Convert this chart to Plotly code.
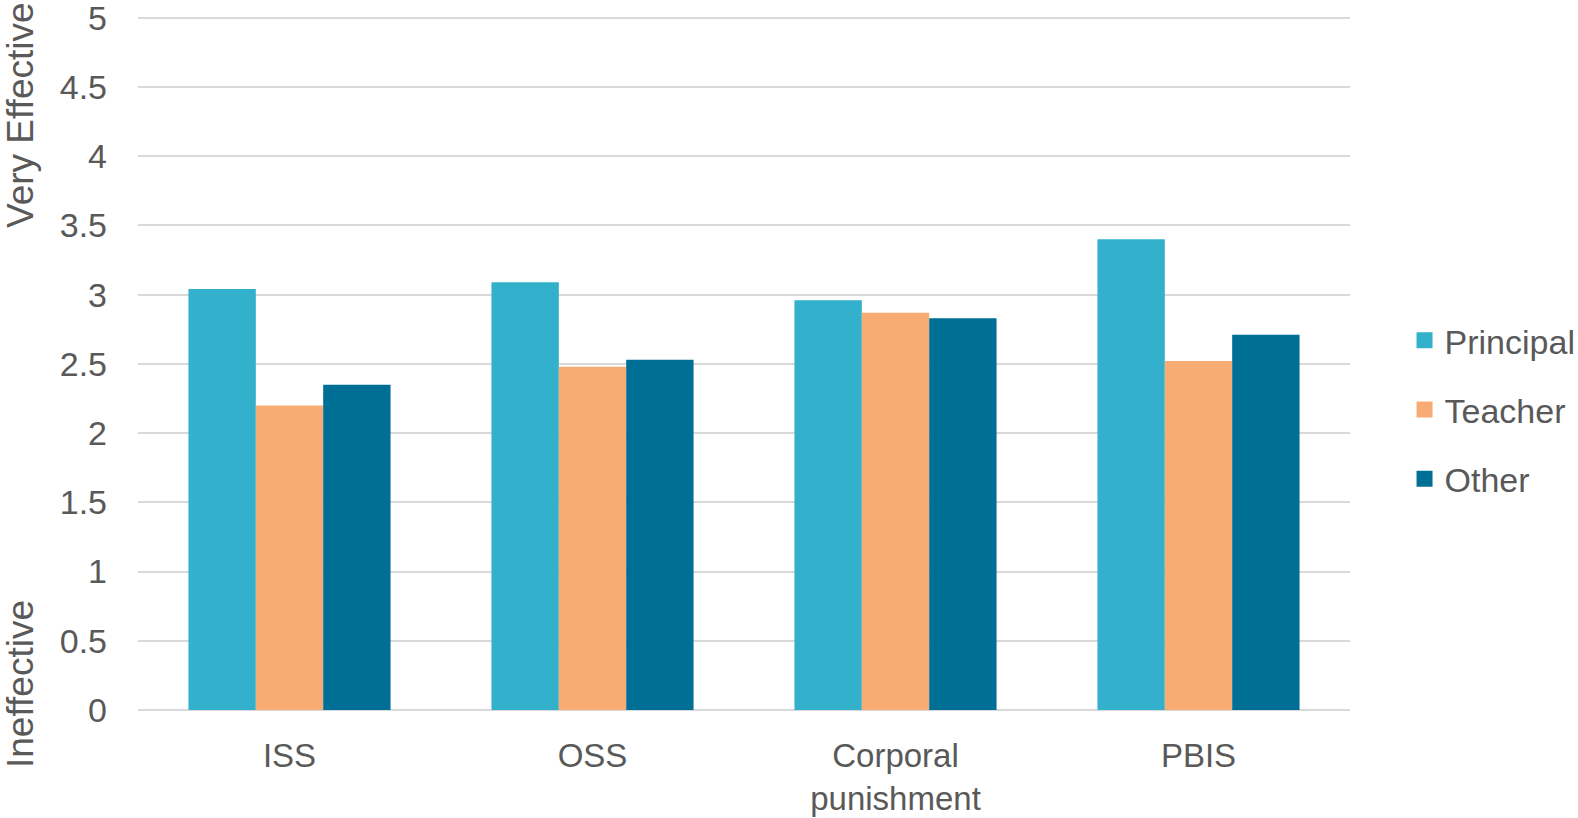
import plotly.graph_objects as go

categories = ["ISS", "OSS", "Corporal<br>punishment", "PBIS"]
series_names = ["Principal", "Teacher", "Other"]
principal = [3.04, 3.09, 2.96, 3.40]
teacher = [2.20, 2.48, 2.87, 2.52]
other = [2.35, 2.53, 2.83, 2.71]
y_ticks = [0, 0.5, 1, 1.5, 2, 2.5, 3, 3.5, 4, 4.5, 5]
y_tick_text = ["0", "0.5", "1", "1.5", "2", "2.5", "3", "3.5", "4", "4.5", "5"]

colors = ["#33B0CB", "#F8AC74", "#006F95"]
FONT = "Liberation Sans"
TXT = "#595959"

fig = go.Figure()
for name, vals, col in zip(series_names, [principal, teacher, other], colors):
    fig.add_trace(go.Bar(x=categories, y=vals, name=name, marker_color=col,
                         marker_line_width=0, showlegend=False))
for name, col in zip(series_names, colors):
    fig.add_trace(go.Scatter(x=[None], y=[None], mode="markers", name=name,
                             legendgroup=name,
                             marker=dict(symbol="square", size=16, color=col)))

fig.update_layout(
    width=1578, height=818,
    margin=dict(l=138, r=228, t=15, b=108, autoexpand=False),
    paper_bgcolor="white", plot_bgcolor="white",
    barmode="group", bargap=0.333, bargroupgap=0,
    font=dict(family=FONT, size=33, color=TXT),
    legend=dict(x=1.045, xanchor="left", y=0.432, yanchor="middle",
                font=dict(family=FONT, size=34, color=TXT),
                tracegroupgap=22, itemsizing="trace"),
    xaxis=dict(showgrid=False, showline=False, zeroline=False, automargin=False,
               tickfont=dict(family=FONT, size=33, color=TXT),
               ticklabelstandoff=23, ticklabeloverflow="allow"),
    yaxis=dict(range=[0, 5.02], tickvals=y_ticks, ticktext=y_tick_text,
               automargin=False, ticklabeloverflow="allow",
               showgrid=True, gridcolor="#D9D9D9", gridwidth=2,
               zeroline=True, zerolinecolor="#D9D9D9", zerolinewidth=2,
               showline=False,
               tickfont=dict(family=FONT, size=34, color=TXT),
               ticklabelstandoff=30),
    annotations=[
        dict(text="Very Effective", textangle=-90, xref="paper", yref="paper",
             x=0, y=1, xanchor="center", yanchor="top", xshift=-118, yshift=15,
             showarrow=False, font=dict(family=FONT, size=37, color=TXT)),
        dict(text="Ineffective", textangle=-90, xref="paper", yref="paper",
             x=0, y=0, xanchor="center", yanchor="bottom", xshift=-118, yshift=-60,
             showarrow=False, font=dict(family=FONT, size=37, color=TXT)),
    ],
)

fig.write_html("out.html")
